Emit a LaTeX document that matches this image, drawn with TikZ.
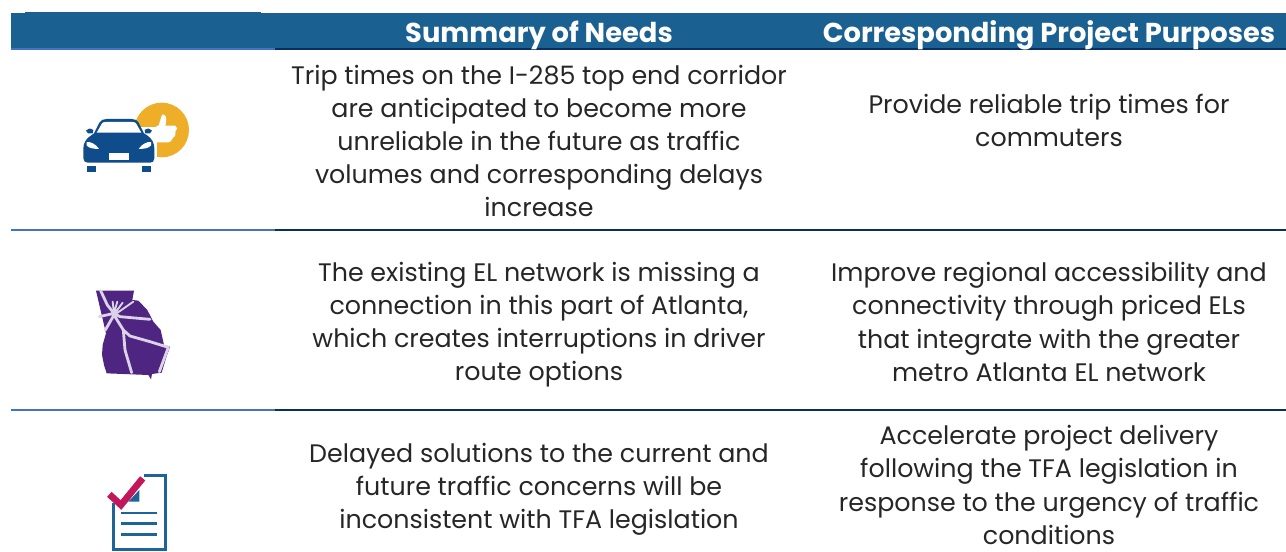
\documentclass[tikz,border=0pt]{standalone}
\usepackage{fontspec}
\setmainfont{Poppins}
\definecolor{hdr}{HTML}{1A6192}
\definecolor{rulelight}{HTML}{4472C4}
\definecolor{ruledark}{HTML}{082F62}
\definecolor{carblue}{HTML}{0F4C8C}
\definecolor{gold}{HTML}{EFAE27}
\definecolor{gapurple}{HTML}{4F2582}
\definecolor{garoad}{HTML}{DCD3E8}
\definecolor{docblue}{HTML}{1F6496}
\definecolor{tick}{HTML}{C2185B}
\definecolor{txt}{HTML}{262626}
\tikzset{
  body/.style={font=\fontsize{19}{24.8}\selectfont,text=txt,align=center,inner sep=0pt},
  head/.style={font=\fontsize{20.5}{24}\selectfont\bfseries,text=white,inner sep=0pt,anchor=center},
  lightrule/.style={draw=rulelight,line width=1.5pt},
  darkrule/.style={draw=ruledark,line width=1.5pt},
  icon/.style={x=.25pt,y=-.25pt}
}
\begin{document}
\begin{tikzpicture}[x=.75pt,y=-.75pt]
\useasboundingbox (0,0) rectangle (1286,552);
\fill[hdr] (11,13) rectangle (1286,48);
\fill[hdr] (25,12) rectangle (261,13);
\draw[lightrule] (11,49) -- (275,49);
\draw[darkrule] (275,49) -- (1286,49);
\draw[lightrule] (11,230) -- (275,230);
\draw[darkrule] (275,230) -- (1286,230);
\draw[lightrule] (11,410.5) -- (275,410.5);
\draw[darkrule] (275,410.5) -- (1286,410.5);
\node[head] (h1) at (539,35) {Summary of Needs};
\node[head] (h2) at (1049,35) {Corresponding Project Purposes};
\node[body] (n1) at (539,141) {Trip times on the I-285 top end corridor\\are anticipated to become more\\unreliable in the future as traffic\\volumes and corresponding delays\\increase};
\node[body] (p1) at (1049,120) {Provide reliable trip times for\\commuters};
\node[body] (n2) at (539,325) {The existing EL network is missing a\\connection in this part of Atlanta,\\which creates interruptions in driver\\route options};
\node[body] (p2) at (1049,322) {Improve regional accessibility and\\connectivity through priced ELs\\that integrate with the greater\\metro Atlanta EL network};
\node[body] (n3) at (539,489) {Delayed solutions to the current and\\future traffic concerns will be\\inconsistent with TFA legislation};
\node[body] (p3) at (1049,485) {Accelerate project delivery\\following the TFA legislation in\\response to the urgency of traffic\\conditions};
% car icon
\begin{scope}[shift={(60,80)},icon]
\fill[gold] (305,150) circle (82);
\fill[white] (268,150) -- (296,136) -- (306,104) .. controls (318,100) and (322,115) .. (316,137) -- (346,137) .. controls (354,140) and (352,150) .. (346,155) .. controls (348,165) and (344,172) .. (338,175) .. controls (336,183) and (330,186) .. (325,187) -- (268,187) -- cycle;
\fill[white] (240,140) rectangle (290,235);
\fill[carblue] (70,205) .. controls (70,190) and (78,175) .. (95,165) -- (102,160) -- (118,128) .. controls (122,120) and (130,117) .. (140,117) -- (215,117) .. controls (225,117) and (232,120) .. (236,128) -- (252,160) -- (260,165) .. controls (276,175) and (283,190) .. (283,205) -- (283,235) .. controls (283,244) and (278,248) .. (270,248) -- (84,248) .. controls (76,248) and (70,244) .. (70,235) -- cycle;
\fill[carblue] (78,152) .. controls (82,144) and (92,144) .. (100,150) -- (98,160) -- (84,160) -- cycle;
\fill[carblue] (276,152) .. controls (272,144) and (262,144) .. (254,150) -- (256,160) -- (270,160) -- cycle;
\fill[white] (110,158) -- (126,130) .. controls (128,127) and (132,126) .. (138,126) -- (216,126) .. controls (222,126) and (226,127) .. (228,130) -- (244,158) -- cycle;
\fill[white] (80,186) .. controls (90,184) and (108,192) .. (117,207) .. controls (105,207) and (85,205) .. (80,196) -- cycle;
\fill[white] (273,186) .. controls (263,184) and (245,192) .. (236,207) .. controls (248,207) and (268,205) .. (273,196) -- cycle;
\fill[white] (147,220) rectangle (206,240);
\fill[carblue] (80,258) rectangle (108,275);
\fill[carblue] (245,258) rectangle (272,275);
\end{scope}
% Georgia icon
\begin{scope}[shift={(70,250)},icon]
\fill[gapurple] (78,122) -- (192,122) -- (187,150) -- (205,152) -- (232,180) -- (250,215) -- (272,240) -- (282,285) -- (300,290) -- (288,325) -- (275,368) -- (246,372) -- (243,388) -- (235,375) -- (110,370) -- (102,345) -- (96,315) -- (98,285) -- (108,250) -- cycle;
\draw[garoad,line width=2.1pt,line cap=round,line join=round]
 (92,122) -- (112,165) -- (132,190)
 (88,200) -- (132,190) -- (150,200) -- (240,208)
 (106,240) -- (132,195) -- (160,240) -- (180,258) -- (240,275) -- (295,292)
 (160,240) -- (165,300) -- (185,368)
 (295,292) -- (268,365);
\draw[garoad,line width=1.4pt,line cap=round]
 (132,190) -- (128,155)
 (132,190) -- (142,155)
 (136,188) -- (158,158)
 (140,190) -- (190,155);
\fill[garoad] (132,190) circle (9);
\end{scope}
% checklist icon
\begin{scope}[shift={(80,460)},icon]
\draw[docblue,line width=2pt,line join=miter] (192,47) -- (257,47) -- (257,268) -- (100,268) -- (100,130);
\fill[docblue] (178,90) -- (178,125) -- (145,125) -- cycle;
\draw[docblue,line width=1.9pt] (123,159) -- (231,159) (123,191) -- (231,191) (123,223) -- (231,223);
\draw[tick,line width=5pt,line join=miter] (88,103) -- (123,135) -- (188,55);
\end{scope}
\end{tikzpicture}
\end{document}
